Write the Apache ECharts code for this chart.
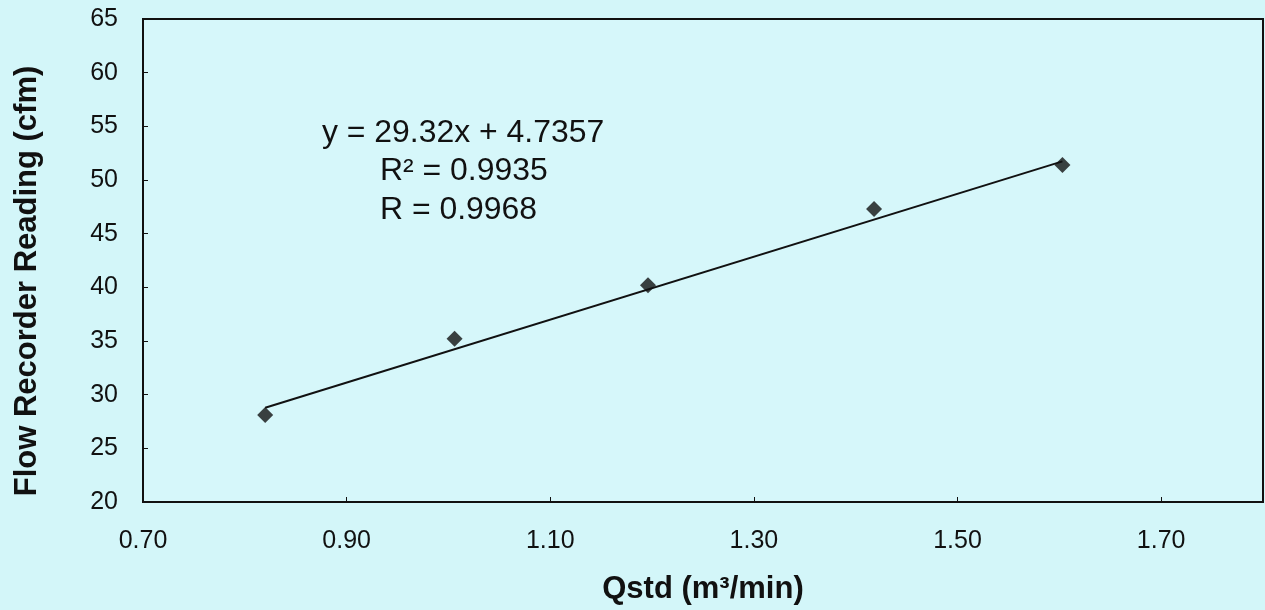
<!DOCTYPE html>
<html>
<head>
<meta charset="utf-8">
<script src="https://cdn.jsdelivr.net/npm/echarts@6/dist/echarts.min.js"></script>
<style>
html,body{margin:0;padding:0;background:#d3f6f9;}
#c{width:1265px;height:610px;}
</style>
</head>
<body>
<div id="c"></div>
<script>
const qstd = [0.82, 1.006, 1.196, 1.418, 1.603];
const reading = [28.1, 35.2, 40.2, 47.3, 51.4];
const slope = 29.32;
const intercept = 4.7357;
const eqLines = ['y = 29.32x + 4.7357', 'R² = 0.9935', 'R = 0.9968'];
const xTitle = 'Qstd (m³/min)';
const yTitle = 'Flow Recorder Reading (cfm)';

const points = qstd.map((x, i) => [x, reading[i]]);
const xMin = Math.min(...qstd), xMax = Math.max(...qstd);
const trend = [[xMin, slope * xMin + intercept], [xMax, slope * xMax + intercept]];

const chart = echarts.init(document.getElementById('c'));
const font = 'Liberation Sans, Arial, sans-serif';
chart.setOption({
  backgroundColor: '#d3f6f9',
  animation: false,
  grid: {left: 143, right: 2, top: 19, bottom: 106, show: true, borderColor: '#111', borderWidth: 2, backgroundColor: '#d6f7fa'},
  xAxis: {
    type: 'value', min: 0.7, max: 1.8, interval: 0.2,
    name: xTitle, nameLocation: 'middle', nameGap: 72,
    nameTextStyle: {fontFamily: font, fontSize: 31, fontWeight: 'bold', color: '#111'},
    axisLine: {show: true, lineStyle: {color: '#111', width: 2}},
    axisTick: {show: true, inside: true, length: 5, lineStyle: {color: '#111'}},
    splitLine: {show: false},
    axisLabel: {fontFamily: font, fontSize: 25, color: '#111', margin: 27, showMaxLabel: false,
      formatter: v => v.toFixed(2)}
  },
  yAxis: {
    type: 'value', min: 20, max: 65, interval: 5,
    axisLine: {show: true, lineStyle: {color: '#111', width: 2}},
    axisTick: {show: true, inside: true, length: 5, lineStyle: {color: '#111'}},
    splitLine: {show: false},
    axisLabel: {fontFamily: font, fontSize: 25, color: '#111', margin: 25}
  },
  graphic: [
    {type: 'text', x: 27, y: 281, rotation: Math.PI / 2,
      style: {text: yTitle, fontFamily: font, fontSize: 31, fontWeight: 'bold', fill: '#111', align: 'center', verticalAlign: 'middle'}},
    {type: 'text', left: 322, top: 118, scaleX: 1.03, style: {text: eqLines[0], fontFamily: font, fontSize: 31, fill: '#111'}},
    {type: 'text', left: 380, top: 156, scaleX: 1.03, style: {text: eqLines[1], fontFamily: font, fontSize: 31, fill: '#111'}},
    {type: 'text', left: 380, top: 195, scaleX: 1.03, style: {text: eqLines[2], fontFamily: font, fontSize: 31, fill: '#111'}}
  ],
  series: [
    {type: 'line', data: trend, symbol: 'none', lineStyle: {color: '#111', width: 2}, z: 2},
    {type: 'scatter', data: points, symbol: 'diamond', symbolSize: 16, itemStyle: {color: '#111'}, z: 3}
  ]
});
</script>
</body>
</html>
